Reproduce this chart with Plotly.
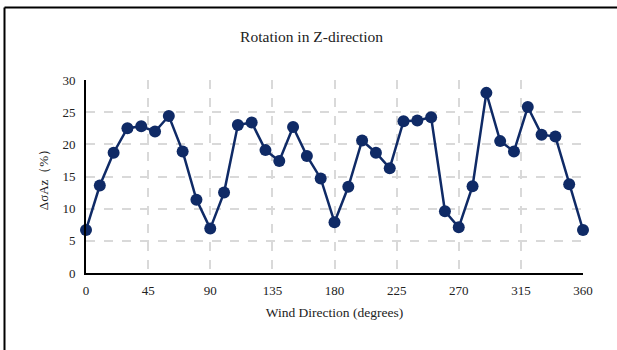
import plotly.graph_objects as go

wind_dir = list(range(0, 361, 10))
delta_sigma = [6.7, 13.6, 18.7, 22.5, 22.8, 22.0, 24.4, 18.9, 11.4, 6.9,
               12.5, 23.0, 23.4, 19.1, 17.4, 22.7, 18.2, 14.7, 7.9, 13.4,
               20.6, 18.7, 16.3, 23.6, 23.7, 24.2, 9.6, 7.1, 13.5, 28.0,
               20.5, 18.9, 25.8, 21.5, 21.2, 13.8, 6.7]
x_ticks = [0, 45, 90, 135, 180, 225, 270, 315, 360]
y_ticks = [0, 5, 10, 15, 20, 25, 30]

color = "#0f2a66"
font = "Liberation Serif, Times New Roman, serif"

fig = go.Figure(go.Scatter(
    x=wind_dir, y=delta_sigma, mode="lines+markers",
    line=dict(color=color, width=2.5),
    marker=dict(color=color, size=12),
    showlegend=False, cliponaxis=False,
))

L, R, T, B = 86, 34, 80, 77
W, H = 617, 350
pw, ph = W - L - R, H - T - B

def px_to_paper_x(px):
    return (px - L) / pw

def px_to_paper_y(py):
    return (H - B - py) / ph

fig.update_layout(
    width=W, height=H,
    margin=dict(l=L, r=R, t=T, b=B),
    paper_bgcolor="white", plot_bgcolor="white",
    font=dict(family=font, size=13, color="#222"),
    title=dict(text="Rotation in Z-direction", x=0.505, xanchor="center",
               y=1 - 37 / H, yanchor="middle",
               font=dict(family=font, size=15.5, color="#222")),
    xaxis=dict(range=[0, 360], tickvals=x_ticks, ticks="",
               showgrid=True, gridcolor="#d9d9d9", griddash="dash", gridwidth=1.5,
               showline=True, linecolor="black", linewidth=2,
               zeroline=False, ticklabelstandoff=4,
               title=dict(text="Wind Direction (degrees)", standoff=11,
                          font=dict(family=font, size=13.5))),
    yaxis=dict(range=[0, 30], tickvals=y_ticks, ticks="",
               showgrid=True, gridcolor="#d9d9d9", griddash="dash", gridwidth=1.5,
               showline=True, linecolor="black", linewidth=2,
               zeroline=False, ticklabelstandoff=6,
               title=dict(text="ΔσAz（%）", standoff=11,
                          font=dict(family=font, size=13))),
    shapes=[
        dict(type="line", xref="paper", yref="paper",
             x0=px_to_paper_x(4.5), x1=px_to_paper_x(640),
             y0=px_to_paper_y(7.5), y1=px_to_paper_y(7.5),
             line=dict(color="black", width=2)),
        dict(type="line", xref="paper", yref="paper",
             x0=px_to_paper_x(4.5), x1=px_to_paper_x(4.5),
             y0=px_to_paper_y(7.5), y1=px_to_paper_y(380),
             line=dict(color="black", width=2)),
    ],
)

fig.write_html("out.html")
